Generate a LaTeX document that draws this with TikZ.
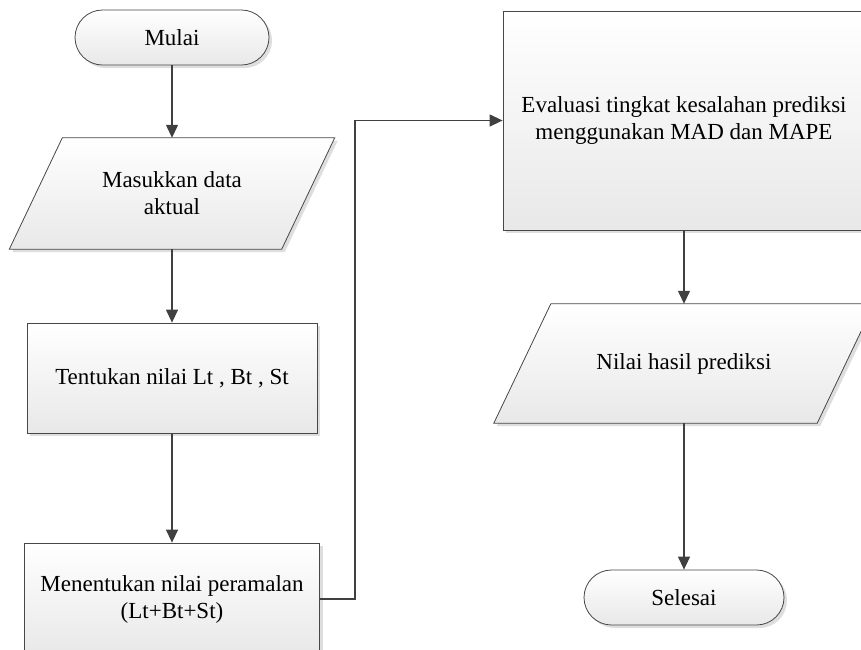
\documentclass[tikz,border=0pt]{standalone}
\usepackage{fontspec}
\setmainfont{Liberation Serif}
\usetikzlibrary{arrows.meta,shadows,calc}
\begin{document}
\begin{tikzpicture}[x=1pt,y=-1pt,
  every node/.style={font=\fontsize{23}{27}\selectfont, align=center, inner sep=0pt},
  box/.style={draw=black!72, line width=0.8pt, top color=white, bottom color=black!9,
    drop shadow={shadow xshift=3pt, shadow yshift=-3pt, fill=black!13, opacity=1}},
  term/.style={box, rounded corners=27.5pt, minimum width=#1, minimum height=55pt},
  proc/.style={box},
  conn/.style={draw=black!75, line width=1.3pt, -{Triangle[length=13pt,width=12pt]}},
  link/.style={draw=black!75, line width=1.3pt}]
\useasboundingbox (0,0) rectangle (861,649);
\clip (0,0) rectangle (861,649);

% left column
\node[term=194pt] (mulai) at (172,37.5) {Mulai};

\node[minimum width=325pt, minimum height=111pt] (masuk) at (172,193.5) {};
\path[box] ($(masuk.north west)+(53,0)$) -- (masuk.north east)
  -- ($(masuk.south east)+(-53,0)$) -- (masuk.south west) -- cycle;
\node (masukT) at (masuk.center) {Masukkan data\\aktual};

\node[proc, minimum width=290pt, minimum height=110pt] (tentukan) at (172,378) {Tentukan nilai Lt , Bt , St};

\node[proc, minimum width=295pt, minimum height=112pt] (menentukan) at (172,599) {Menentukan nilai peramalan\\(Lt+Bt+St)};

% right column
\node[proc, minimum width=362pt, minimum height=219pt] (evaluasi) at (684,120.5) {Evaluasi tingkat kesalahan prediksi\\menggunakan MAD dan MAPE};

\node[minimum width=380pt, minimum height=119pt] (nilai) at (684,363.5) {};
\path[box] ($(nilai.north west)+(57,0)$) -- (nilai.north east)
  -- ($(nilai.south east)+(-57,0)$) -- (nilai.south west) -- cycle;
\node (nilaiT) at (nilai.center) {Nilai hasil prediksi};

\node[term=200pt] (selesai) at (684,597.5) {Selesai};

% connectors
\draw[conn] (mulai.south) -- (masuk.north);
\draw[conn] (masuk.south) -- (tentukan.north);
\draw[conn] (tentukan.south) -- (menentukan.north);
\draw[conn] (menentukan.east) -- ++(35,0) |- (evaluasi.west);
\draw[conn] (evaluasi.south) -- (nilai.north);
\draw[conn] (nilai.south) -- (selesai.north);
\end{tikzpicture}
\end{document}
